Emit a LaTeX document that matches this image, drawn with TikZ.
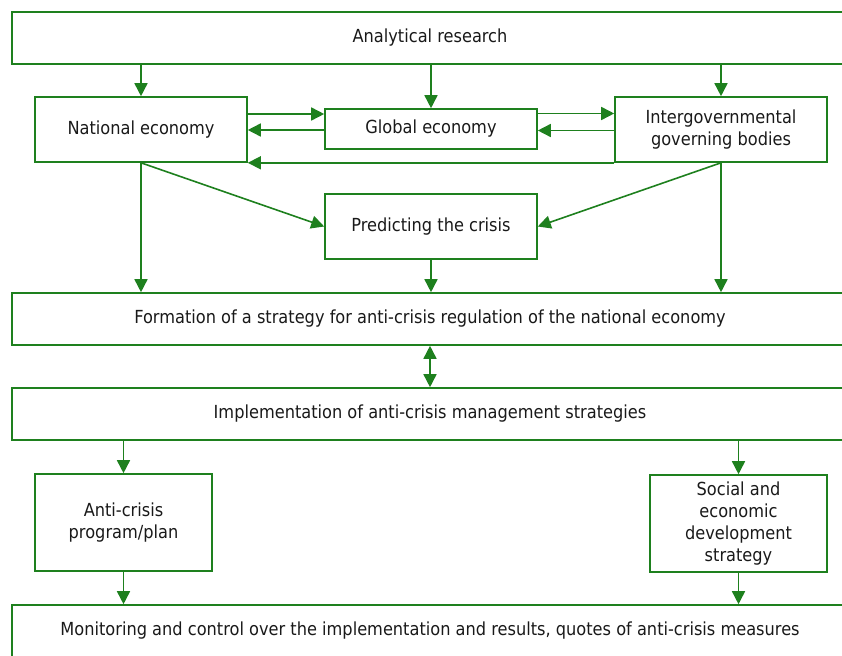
\documentclass[tikz,border=0pt]{standalone}
\usepackage{fontspec}
\setmainfont[FakeStretch=0.9]{DejaVu Sans}
\usetikzlibrary{arrows.meta,calc}
\definecolor{lg}{RGB}{30,128,30}
\definecolor{tx}{RGB}{25,25,25}
\begin{document}
\begin{tikzpicture}[x=1pt,y=-1pt,
  box/.style={draw=lg,line width=1.6pt,rectangle,inner sep=0pt,align=center,
    text=tx,font=\fontsize{18}{22}\selectfont},
  arr/.style={draw=lg,line width=1.6pt,-{Triangle[length=13pt,width=13pt]}},
  darr/.style={draw=lg,line width=1.6pt,{Triangle[length=13pt,width=13pt]}-{Triangle[length=13pt,width=13pt]}}]
\useasboundingbox (0,0) rectangle (842,655);
\clip (0,0) rectangle (842,655);
% wide boxes
\node[box,minimum width=836pt,minimum height=52pt] (top) at (430,38) {Analytical research};
\node[box,minimum width=836pt,minimum height=52pt] (form) at (430,319) {Formation of a strategy for anti-crisis regulation of the national economy};
\node[box,minimum width=836pt,minimum height=52pt] (impl) at (430,414) {Implementation of anti-crisis management strategies};
\node[box,minimum width=836pt,minimum height=52pt] (mon) at (430,631) {Monitoring and control over the implementation and results, quotes of anti-crisis measures};
% middle boxes
\node[box,minimum width=212pt,minimum height=65pt] (nat) at (141,129.5) {National economy};
\node[box,minimum width=212pt,minimum height=40pt] (glob) at (431,129) {Global economy};
\node[box,minimum width=212pt,minimum height=65pt] (inter) at (721,129.5) {Intergovernmental\\governing bodies};
\node[box,minimum width=212pt,minimum height=65pt] (pred) at (431,226.5) {Predicting the crisis};
\node[box,minimum width=177pt,minimum height=97pt] (anti) at (123.5,522.5) {Anti-crisis\\program/plan};
\node[box,minimum width=177pt,minimum height=97pt] (soc) at (738.5,523.5) {Social and\\economic\\development\\strategy};
% connectors
\draw[arr] (nat.north |- top.south) -- (nat.north);
\draw[arr] (glob.north |- top.south) -- (glob.north);
\draw[arr] (inter.north |- top.south) -- (inter.north);
\draw[arr] ([yshift=15.5pt]nat.east) -- ([yshift=15.5pt]nat.east -| glob.west);
\draw[arr] ([yshift=-1pt]glob.west) -- ([yshift=-1pt]glob.west -| nat.east);
\draw[arr] ([yshift=15.5pt]glob.east) -- ([yshift=15.5pt]glob.east -| inter.west);
\draw[arr] ([yshift=-1pt]inter.west) -- ([yshift=-1pt]inter.west -| glob.east);
\draw[arr] (inter.south west) -- (inter.south west -| nat.east);
\draw[arr] (nat.south) -- (pred.west);
\draw[arr] (inter.south) -- (pred.east);
\draw[arr] (nat.south) -- (nat.south |- form.north);
\draw[arr] (inter.south) -- (inter.south |- form.north);
\draw[arr] (pred.south) -- (pred.south |- form.north);
\draw[darr] (form.south) -- (impl.north);
\draw[arr] (anti.north |- impl.south) -- (anti.north);
\draw[arr] (soc.north |- impl.south) -- (soc.north);
\draw[arr] (anti.south) -- (anti.south |- mon.north);
\draw[arr] (soc.south) -- (soc.south |- mon.north);
\end{tikzpicture}
\end{document}
